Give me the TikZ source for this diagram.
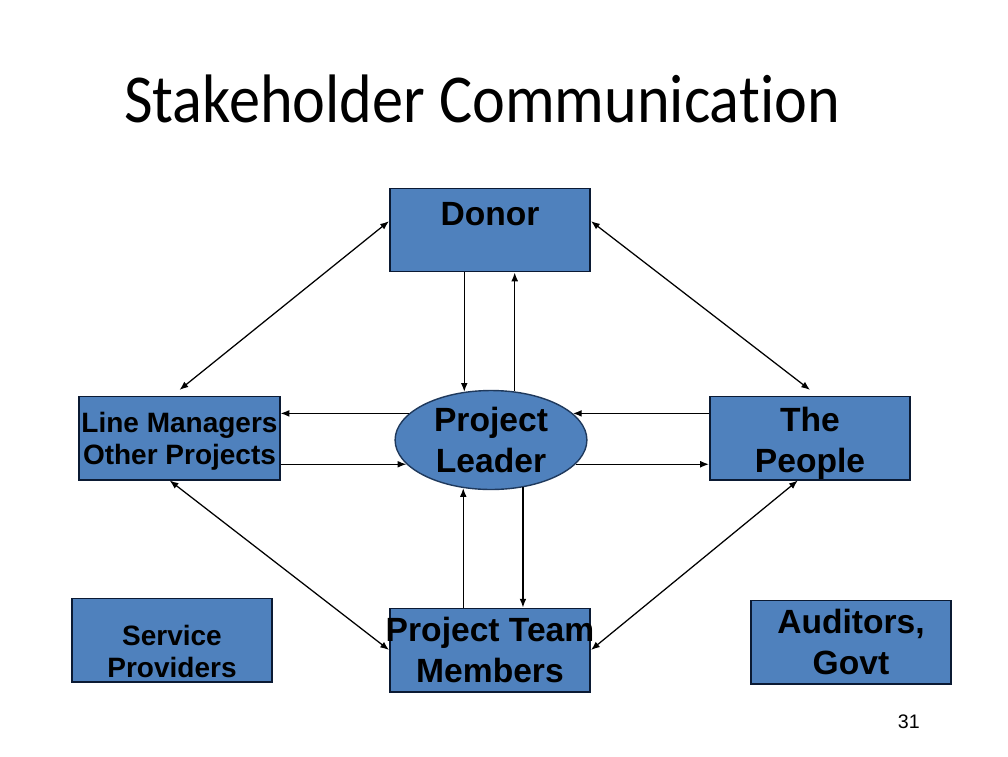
\documentclass[tikz,border=0pt]{standalone}
\usepackage{fontspec}
\setmainfont{Liberation Sans}
\newfontfamily\titlefont[Ligatures=NoCommon]{Carlito}
\usepackage{graphicx}
\usepackage{xcolor}
\usepackage{tikz}
\usetikzlibrary{arrows.meta,positioning,shapes.geometric}

\definecolor{boxblue}{HTML}{4F81BD}
\definecolor{edgeblue}{HTML}{0B1A33}

\begin{document}
\begin{tikzpicture}[x=0.7142857pt, y=-0.7142857pt,
  stakebox/.style={draw=edgeblue, line width=1.4pt, fill=boxblue, minimum width=142.9pt, minimum height=59.3pt, inner sep=0pt, align=center, font=\bfseries\fontsize{24}{29.3}\selectfont},
  smallbox/.style={stakebox, font=\bfseries\fontsize{20}{22.9}\selectfont},
  leader/.style={ellipse, draw=edgeblue!70!boxblue, line width=1pt, fill=boxblue, minimum width=137pt, minimum height=70.7pt, inner sep=0pt, align=center, font=\bfseries\fontsize{24}{29.3}\selectfont},
  arr/.style={-{Latex[length=2.2mm,width=1.7mm]}, line width=0.9pt},
  darr/.style={{Latex[length=2.2mm,width=1.7mm]}-{Latex[length=2.2mm,width=1.7mm]}, line width=0.9pt},
]
\useasboundingbox (0,0) rectangle (1008,756);

\node[font=\titlefont\fontsize{49}{50}\selectfont, anchor=base west, inner sep=0pt] (title) at (124,122) {\scalebox{0.907}[1]{Stakeholder Communication}};

\node[stakebox, text height=17pt, text depth=24pt] (donor) at (490,230) {Donor};
\node[leader] (pl) at (491,440) {Project\\Leader};
\node[smallbox] (lm) at (179.5,438) {\rule{0pt}{19pt}Line Managers\\Other Projects};
\node[stakebox] (ppl) at (810,438) {\rule{0pt}{24.5pt}The\\People};
\node[smallbox] (sp) at (172,640) {\rule{0pt}{31pt}Service\\Providers};
\node[stakebox] (ptm) at (490,650) {\makebox[0pt]{Project Team}\\Members};
\node[stakebox] (aud) at (851,642) {Auditors,\\Govt};

\node[font=\fontsize{14}{16}\selectfont, anchor=base east, inner sep=0pt] (pgnum) at (920,728) {31};

% donor links
\draw[darr] (donor.175) -- ([yshift=4pt]lm.north);
\draw[darr] (donor.5) -- ([yshift=4pt]ppl.north);
\draw[arr] (pl.119 |- donor.south) -- (pl.119);
\draw[arr] (pl.64) -- (pl.64 |- donor.south);

% side links
\draw[arr] (pl.162) -- (pl.162 -| lm.east);
\draw[arr] (lm.east |- pl.196) -- (pl.196);
\draw[arr] (ppl.west |- pl.18) -- (pl.18);
\draw[arr] (pl.344) -- (pl.344 -| ppl.west);

% team links
\draw[arr] (pl.240 |- ptm.north) -- (pl.240);
\draw[arr] (pl.304) -- (pl.304 |- ptm.north);
\draw[darr] (lm.257) -- (ptm.west);
\draw[darr] (ppl.254) -- (ptm.east);

\end{tikzpicture}
\end{document}
